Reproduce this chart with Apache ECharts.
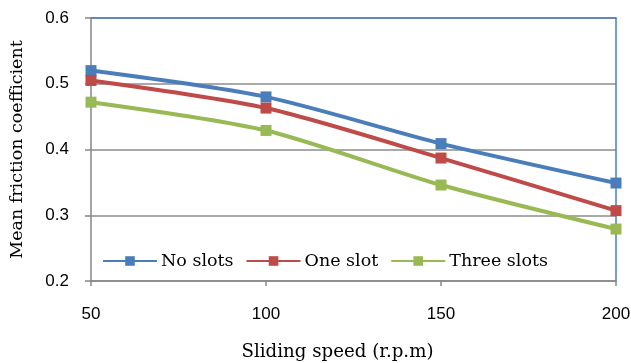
<!DOCTYPE html>
<html>
<head>
<meta charset="utf-8">
<script src="https://cdn.jsdelivr.net/npm/echarts@6/dist/echarts.min.js"></script>
<style>
  html, body { margin: 0; padding: 0; background: #fff; }
  #chart { width: 631px; height: 363px; }
</style>
</head>
<body>
<div id="chart"></div>
<script>
// Sliding speeds (r.p.m) and measured mean friction coefficients
const speeds = [50, 100, 150, 200];
const noSlots = [0.520, 0.480, 0.409, 0.349];
const oneSlot = [0.505, 0.463, 0.387, 0.307];
const threeSlots = [0.472, 0.429, 0.346, 0.279];
const seriesNames = ['No slots', 'One slot', 'Three slots'];
const seriesColors = ['#4a7ebb', '#be4b48', '#98b954'];

const pairs = vals => speeds.map((s, i) => [s, vals[i]]);
const serifFont = '"DejaVu Serif", serif';
const sansFont = '"Liberation Sans", Arial, sans-serif';

const chart = echarts.init(document.getElementById('chart'), null, { renderer: 'canvas' });

const makeSeries = (name, vals, color) => ({
  name: name,
  type: 'line',
  data: pairs(vals),
  smooth: 0.25,
  symbol: 'rect',
  symbolSize: 11,
  lineStyle: { color: color, width: 4 },
  itemStyle: { color: color },
  emphasis: { disabled: true },
  z: 3
});

chart.setOption({
  animation: false,
  grid: { left: 91, right: 15, top: 18, bottom: 82, containLabel: false, outerBoundsMode: 'none' },
  legend: {
    left: 98,
    top: 250,
    itemWidth: 54,
    itemHeight: 12,
    itemGap: 12,
    backgroundColor: '#fff',
    padding: [2, 4],
    textStyle: { fontFamily: serifFont, fontSize: 17.5, color: '#000', padding: [0, 0, 0, -1] },
    data: seriesNames
  },
  xAxis: [{
    type: 'value',
    min: 50,
    max: 200,
    interval: 50,
    name: 'Sliding speed (r.p.m)',
    nameLocation: 'middle',
    nameGap: 62,
    nameTextStyle: { fontFamily: serifFont, fontSize: 18.2, color: '#000', padding: [0, 32, 0, 0] },
    axisLine: { lineStyle: { color: '#868686', width: 1.5 } },
    axisTick: { show: true, length: 5, lineStyle: { color: '#868686', width: 1.5 } },
    axisLabel: { fontFamily: sansFont, fontSize: 17, color: '#000', margin: 25 },
    splitLine: { show: false }
  }, {
    type: 'value',
    position: 'top',
    min: 50,
    max: 200,
    axisLine: { show: true, lineStyle: { color: '#4a7ebb', width: 1.5 } },
    axisTick: { show: false },
    axisLabel: { show: false },
    splitLine: { show: false }
  }],
  yAxis: [{
    type: 'value',
    min: 0.2,
    max: 0.6,
    interval: 0.1,
    name: 'Mean friction coefficient',
    nameLocation: 'middle',
    nameGap: 65,
    nameTextStyle: { fontFamily: serifFont, fontSize: 17.5, color: '#000' },
    axisLine: { show: true, lineStyle: { color: '#868686', width: 1.5 } },
    axisTick: { show: true, length: 6, lineStyle: { color: '#868686', width: 1.5 } },
    axisLabel: { fontFamily: sansFont, fontSize: 17, color: '#000', margin: 22,
      formatter: v => v.toFixed(1) },
    splitLine: { lineStyle: { color: '#8c8c8c', width: 1.5 } }
  }, {
    type: 'value',
    position: 'right',
    min: 0.2,
    max: 0.6,
    axisLine: { show: true, lineStyle: { color: '#4a7ebb', width: 1.5 } },
    axisTick: { show: false },
    axisLabel: { show: false },
    splitLine: { show: false }
  }],
  series: [
    makeSeries(seriesNames[0], noSlots, seriesColors[0]),
    makeSeries(seriesNames[1], oneSlot, seriesColors[1]),
    makeSeries(seriesNames[2], threeSlots, seriesColors[2])
  ]
});
</script>
</body>
</html>
